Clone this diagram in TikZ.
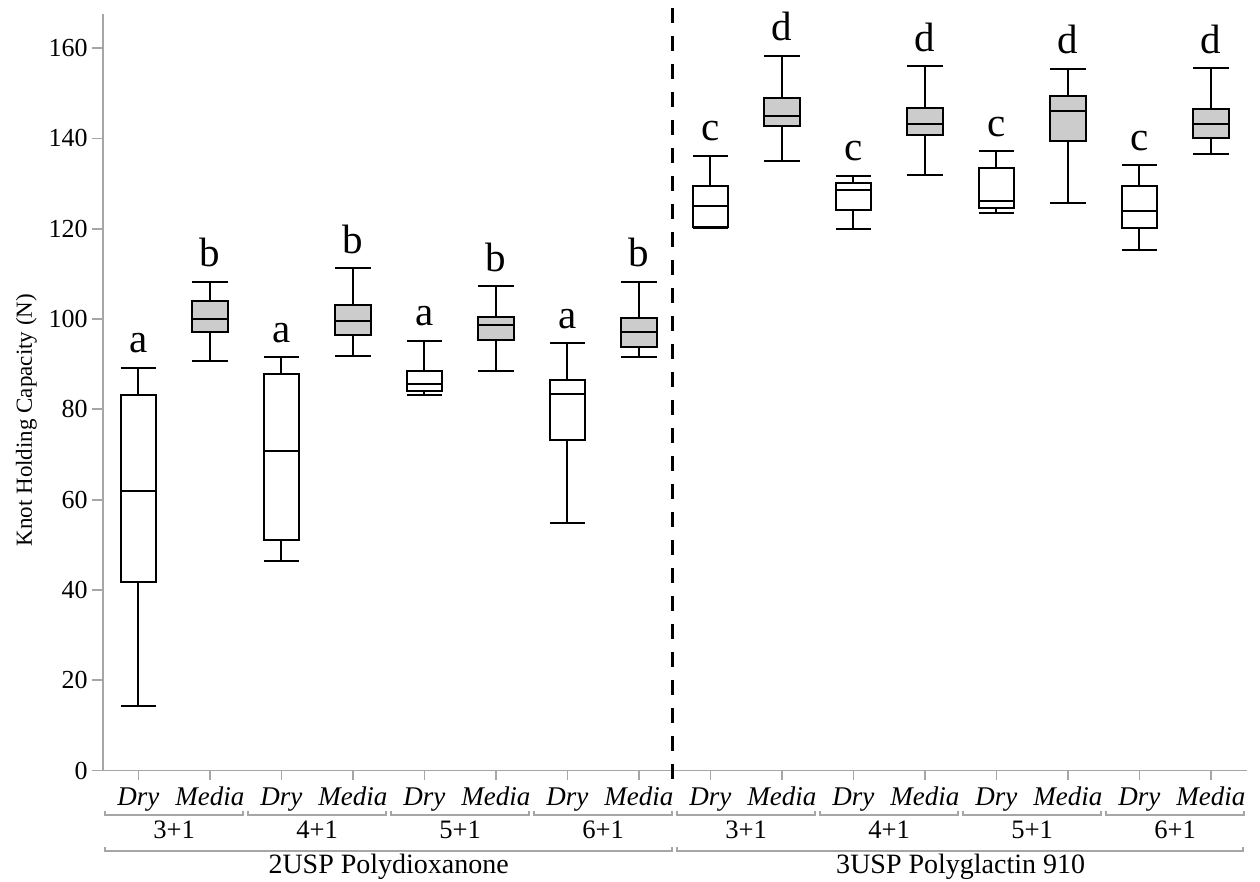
\documentclass[tikz,border=0pt]{standalone}
\usepackage{fontspec}
\setmainfont{Liberation Serif}

\definecolor{axisgray}{gray}{0.65}
\definecolor{mediagray}{gray}{0.8}

\tikzset{
  axisline/.style={axisgray, line width=0.9pt},
  bracketline/.style={axisgray, line width=0.75pt},
  boxline/.style={black, line width=1pt},
  ticklabel/.style={anchor=east, inner sep=0pt, font=\fontsize{13}{13}\selectfont},
  condlabel/.style={anchor=base, inner sep=0pt, font=\fontsize{13.5}{13.5}\selectfont\itshape},
  grouplabel/.style={anchor=base, inner sep=0pt, font=\fontsize{13.3}{13.3}\selectfont},
  suturelabel/.style={anchor=base, inner sep=0pt, font=\fontsize{14}{14}\selectfont},
  letterlabel/.style={anchor=base, inner sep=0pt, yshift=7.5pt, font=\fontsize{20.5}{20.5}\selectfont},
}

\begin{document}
\begin{tikzpicture}[x=35.75pt, y=2.2575pt]
    \useasboundingbox (-1.436,-24.47) rectangle (16.186,170.66);

    % axes
    \draw[axisline] (0,167.6) -- (0,0) -- (16,0);
    \foreach \v in {0,20,...,160} {
        \draw[axisline] (-0.15,\v) -- (0,\v);
        \node[ticklabel] (tick\v) at (-0.206,\v) {\v};
    }
    \foreach \i in {0,...,15}
        \draw[axisline] (\i+0.5,0) -- (\i+0.5,-2.2);

    \node[rotate=90, anchor=base, font=\fontsize{11.5}{11.5}\selectfont] (ylabel) at (-0.99,77.6) {Knot Holding Capacity (N)};

    % boxes: position/low/q1/median/q3/high/fill/letter
    \foreach \p/\lo/\qa/\md/\qb/\hi/\fc/\grp [count=\k] in {
        0.5/14.3/41.8/62.0/83.1/89.2/white/a,
        1.5/90.6/97.1/100.1/104.0/108.3/mediagray/b,
        2.5/46.4/51.1/70.8/87.9/91.5/white/a,
        3.5/91.9/96.4/99.6/103.1/111.3/mediagray/b,
        4.5/83.2/84.0/85.6/88.6/95.2/white/a,
        5.5/88.6/95.4/98.6/100.5/107.3/mediagray/b,
        6.5/54.8/73.3/83.3/86.4/94.6/white/a,
        7.5/91.5/93.8/97.1/100.2/108.3/mediagray/b,
        8.5/120.1/120.3/125.0/129.5/136.2/white/c,
        9.5/134.9/142.7/145.0/148.9/158.3/mediagray/d,
        10.5/120.0/124.1/128.5/130.1/131.7/white/c,
        11.5/131.8/140.7/143.3/146.7/156.0/mediagray/d,
        12.5/123.5/124.5/126.1/133.4/137.2/white/c,
        13.5/125.6/139.5/146.1/149.4/155.4/mediagray/d,
        14.5/115.3/120.1/123.9/129.5/134.1/white/c,
        15.5/136.5/140.2/143.1/146.5/155.5/mediagray/d} {
        \draw[boxline] (\p,\lo) -- (\p,\qa) (\p,\qb) -- (\p,\hi);
        \draw[boxline] (\p-0.246,\lo) -- (\p+0.246,\lo) (\p-0.246,\hi) -- (\p+0.246,\hi);
        \draw[boxline, fill=\fc] (\p-0.246,\qa) rectangle (\p+0.246,\qb);
        \draw[boxline] (\p-0.246,\md) -- (\p+0.246,\md);
        \node[letterlabel] (letter\k) at (\p,\hi) {\grp};
    }

    % divider between the two sutures
    \draw[black, line width=1.7pt, dash pattern=on 7.5pt off 6.5pt] (7.97,168.8) -- (7.97,-1.9);

    % category axis
    \foreach \i in {0,...,7} {
        \node[condlabel] (dry\i) at (2*\i+0.5,-7.64) {Dry};
        \node[condlabel] (media\i) at (2*\i+1.5,-7.64) {Media};
        \draw[bracketline] (2*\i+0.03,-8.97) -- (2*\i+0.03,-9.86) -- (2*\i+1.96,-9.86) -- (2*\i+1.96,-8.97);
    }
    \foreach \t [count=\k from 0] in {3,4,5,6,3,4,5,6}
        \node[grouplabel] (throw\k) at (2*\k+1,-15.01) {\t+1};

    \draw[bracketline] (0.03,-16.94) -- (0.03,-17.83) -- (7.96,-17.83) -- (7.96,-16.94);
    \draw[bracketline] (8.03,-16.94) -- (8.03,-17.83) -- (15.95,-17.83) -- (15.95,-16.94);
    \node[suturelabel] (pdo) at (4,-22.8) {2USP Polydioxanone};
    \node[suturelabel] (pg) at (12,-22.8) {3USP Polyglactin 910};
\end{tikzpicture}
\end{document}
